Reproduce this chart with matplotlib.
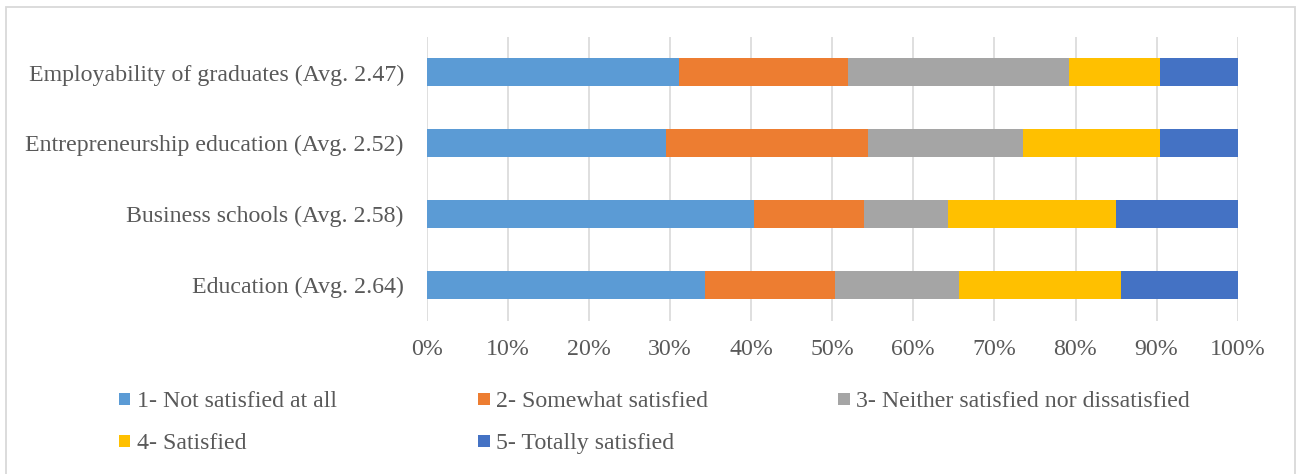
import matplotlib
matplotlib.use("Agg")
import matplotlib.pyplot as plt
from matplotlib.patches import Rectangle
from matplotlib.ticker import PercentFormatter, MultipleLocator
import numpy as np

# Survey topics (bottom to top on the chart)
categories = [
    "Education (Avg. 2.64)",
    "Business schools (Avg. 2.58)",
    "Entrepreneurship education (Avg. 2.52)",
    "Employability of graduates (Avg. 2.47)",
]

# Share of respondents per satisfaction level (%), same order as categories
not_satisfied = [34.35, 40.4, 29.55, 31.1]
somewhat_satisfied = [16.05, 13.5, 24.85, 20.85]
neither = [15.2, 10.4, 19.17, 27.25]
satisfied = [20.0, 20.66, 16.83, 11.2]
totally_satisfied = [14.4, 15.04, 9.6, 9.6]

series_labels = [
    "1- Not satisfied at all",
    "2- Somewhat satisfied",
    "3- Neither satisfied nor dissatisfied",
    "4- Satisfied",
    "5- Totally satisfied",
]
series_colors = ["#5B9BD5", "#ED7D31", "#A5A5A5", "#FFC000", "#4472C4"]
series_values = [not_satisfied, somewhat_satisfied, neither, satisfied, totally_satisfied]

W, H = 1301, 474
fig = plt.figure(figsize=(W / 100, H / 100), dpi=100)
plt.rcParams["font.family"] = ["Liberation Serif", "DejaVu Serif"]
text_color = "#595959"
grid_color = "#D9D9D9"
fs = 17.2

ax = fig.add_axes([426.7 / W, 1 - 320.7 / H, (1237.7 - 426.7) / W, (320.7 - 37) / H])

y = np.arange(len(categories))
left = np.zeros(len(categories))
for vals, lab, col in zip(series_values, series_labels, series_colors):
    vals = np.asarray(vals)
    ax.barh(y, vals, left=left, height=0.394, color=col, label=lab, zorder=3)
    left += vals

ax.set_xlim(0, 100)
ax.set_ylim(-0.5, len(categories) - 0.5)
ax.xaxis.set_major_locator(MultipleLocator(10))
ax.xaxis.set_major_formatter(PercentFormatter(decimals=0))
ax.set_yticks(y)
ax.set_yticklabels(categories)
ax.grid(axis="x", color=grid_color, linewidth=1.2, zorder=0)
for s in ax.spines.values():
    s.set_visible(False)
ax.tick_params(axis="both", length=0, labelsize=fs, colors=text_color)
ax.tick_params(axis="x", pad=13)
ax.tick_params(axis="y", pad=16.5)

# Outer chart border
fig.patches.append(Rectangle((6 / W, -0.01), (1295 - 6) / W, 1 - 7 / H + 0.01,
                             transform=fig.transFigure, fill=False,
                             edgecolor=grid_color, linewidth=1.3))

# Legend laid out in equal-width columns
col_x = [118.7, 478.4, 838.1]
row_y = [399, 441]
sq = 11.5
for i, (lab, col) in enumerate(zip(series_labels, series_colors)):
    cx = col_x[i % 3]
    cy = row_y[i // 3]
    fig.patches.append(Rectangle((cx / W, (H - cy - sq / 2) / H), sq / W, sq / H,
                                 transform=fig.transFigure, facecolor=col,
                                 edgecolor="none"))
    fig.text((cx + sq + 6.5) / W, (H - cy) / H, lab, ha="left", va="center_baseline",
             fontsize=fs, color=text_color)

fig.savefig("out.png", dpi=100, facecolor="white")
